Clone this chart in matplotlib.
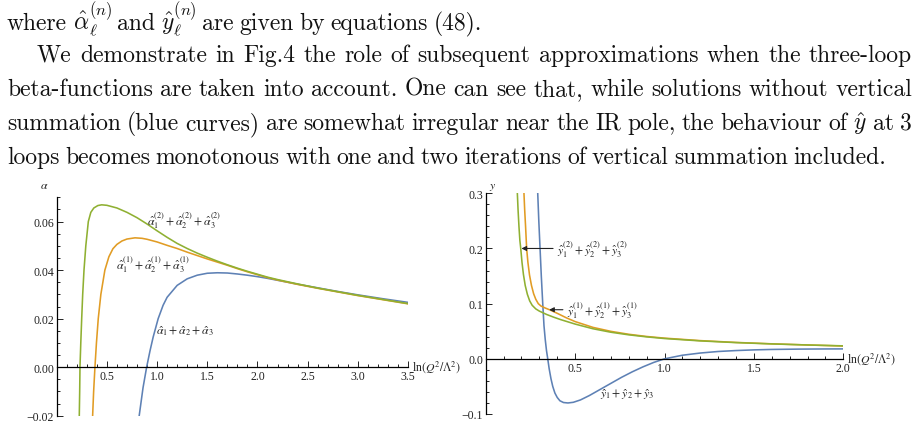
import numpy as np
import matplotlib.pyplot as plt
from matplotlib.ticker import MultipleLocator, FixedLocator

# ---- data ----
# left panel: alpha vs ln(Q^2/Lambda^2)
a_green_x = [0.225, 0.229, 0.232, 0.240, 0.249, 0.259, 0.272, 0.290, 0.315, 0.340, 0.370,
             0.410, 0.448, 0.500, 0.600, 0.700, 0.800, 0.900, 1.000, 1.100, 1.200, 1.300,
             1.400, 1.500, 1.600, 1.700, 1.800, 1.900, 2.000, 2.100, 2.200, 2.400, 2.600,
             2.800, 3.000, 3.250, 3.500]
a_green_y = [-0.020, -0.010, 0.000, 0.010, 0.020, 0.030, 0.040, 0.050, 0.060, 0.0638, 0.0656,
             0.0666, 0.0669, 0.0667, 0.0656, 0.0638, 0.0616, 0.0590, 0.0562, 0.0535, 0.0510,
             0.0489, 0.0470, 0.0453, 0.0437, 0.0422, 0.0408, 0.0395, 0.0383, 0.0371, 0.0361,
             0.0343, 0.0326, 0.0311, 0.0296, 0.0279, 0.0262]

a_orange_x = [0.358, 0.368, 0.381, 0.396, 0.414, 0.440, 0.480, 0.520, 0.560, 0.600, 0.650,
              0.700, 0.780, 0.850, 0.900, 1.000, 1.100, 1.200, 1.300, 1.400, 1.500, 1.600,
              1.700, 1.800, 1.900, 2.000, 2.100, 2.200, 2.400, 2.600, 2.800, 3.000, 3.250,
              3.500]
a_orange_y = [-0.020, -0.010, 0.000, 0.010, 0.020, 0.030, 0.040, 0.0455, 0.0488, 0.0506, 0.0520,
              0.0528, 0.0533, 0.0531, 0.0527, 0.0516, 0.0502, 0.0489, 0.0474, 0.0460, 0.0446,
              0.0433, 0.0420, 0.0406, 0.0393, 0.0381, 0.0369, 0.0359, 0.0341, 0.0325, 0.0310,
              0.0295, 0.0278, 0.0261]

a_blue_x = [0.822, 0.860, 0.896, 0.930, 0.961, 1.011, 1.060, 1.100, 1.200, 1.300, 1.400,
            1.500, 1.600, 1.700, 1.800, 1.900, 2.000, 2.100, 2.200, 2.400, 2.600, 2.800,
            3.000, 3.250, 3.500]
a_blue_y = [-0.020, -0.0085, 0.000, 0.0068, 0.0124, 0.020, 0.0255, 0.0288, 0.0337, 0.0364,
            0.0379, 0.0387, 0.0389, 0.0388, 0.0384, 0.0379, 0.0373, 0.0366, 0.0358, 0.0342,
            0.0327, 0.0312, 0.0298, 0.0282, 0.0267]

# right panel: y vs ln(Q^2/Lambda^2)
y_green_x = [0.177, 0.181, 0.186, 0.191, 0.196, 0.203, 0.211, 0.221, 0.233, 0.246, 0.260,
             0.280, 0.300, 0.340, 0.380, 0.420, 0.500, 0.600, 0.700, 0.800, 0.900, 1.000,
             1.200, 1.400, 1.600, 1.800, 2.000]
y_green_y = [0.300, 0.270, 0.240, 0.215, 0.200, 0.175, 0.153, 0.133, 0.117, 0.105, 0.097,
             0.0905, 0.0865, 0.0805, 0.0755, 0.0710, 0.0630, 0.0545, 0.0482, 0.0435, 0.0398,
             0.0368, 0.0325, 0.0294, 0.0270, 0.0251, 0.0235]

y_orange_x = [0.214, 0.218, 0.223, 0.229, 0.236, 0.245, 0.256, 0.268, 0.280, 0.294, 0.310,
              0.330, 0.360, 0.400, 0.450, 0.500, 0.600, 0.700, 0.800, 0.900, 1.000, 1.200,
              1.400, 1.600, 1.800, 2.000]
y_orange_y = [0.300, 0.270, 0.240, 0.200, 0.175, 0.152, 0.133, 0.118, 0.108, 0.100, 0.0955,
              0.0925, 0.0885, 0.0825, 0.0745, 0.0675, 0.0570, 0.0498, 0.0445, 0.0405, 0.0375,
              0.0330, 0.0297, 0.0272, 0.0251, 0.0232]

y_blue_x = [0.291, 0.297, 0.304, 0.311, 0.319, 0.326, 0.333, 0.340, 0.347, 0.355, 0.365,
            0.375, 0.387, 0.400, 0.415, 0.435, 0.460, 0.490, 0.530, 0.580, 0.640, 0.700,
            0.760, 0.820, 0.880, 0.940, 1.000, 1.100, 1.200, 1.300, 1.400, 1.500, 1.600,
            1.750, 1.900, 2.000]
y_blue_y = [0.300, 0.250, 0.200, 0.150, 0.100, 0.060, 0.035, 0.015, 0.000, -0.018, -0.036,
            -0.050, -0.062, -0.070, -0.076, -0.0792, -0.080, -0.0788, -0.0745, -0.0665, -0.0555,
            -0.0445, -0.0335, -0.0235, -0.0145, -0.0065, 0.000, 0.0065, 0.0105, 0.0133, 0.0150,
            0.0162, 0.0170, 0.0176, 0.0179, 0.0180]

BLUE = '#5e81b5'
ORANGE = '#e19c24'
GREEN = '#8fb032'

W, H = 918, 427
fig = plt.figure(figsize=(W / 100, H / 100), dpi=100)

# ---- paragraph text ----
TXT = dict(family='cmr10', math_fontfamily='cm', fontsize=17, color='#111111')
lines = [
    (r"where $\hat{\alpha}_\ell^{(n)}$ and $\hat{y}_\ell^{(n)}$ are given by equations (48).", 7, None, 30),
    (r"We demonstrate in Fig.4 the role of subsequent approximations when the three-loop", 37, 912, 62),
    (r"beta-functions are taken into account. One can see that, while solutions without vertical", 7, 912, 96),
    (r"summation (blue curves) are somewhat irregular near the IR pole, the behaviour of $\hat{y}$ at 3", 7, 912, 130),
    (r"loops becomes monotonous with one and two iterations of vertical summation included.", 7, None, 164),
]
renderer = fig.canvas.get_renderer()
for s, x0, x1, yb in lines:
    # split on spaces, keeping $...$ groups intact
    words, cur, inmath = [], '', False
    for ch in s:
        if ch == '$':
            inmath = not inmath
        if ch == ' ' and not inmath:
            words.append(cur)
            cur = ''
        else:
            cur += ch
    words.append(cur)
    texts = [fig.text(0, 1 - yb / H, w, va='baseline', ha='left', **TXT) for w in words]
    widths = [t.get_window_extent(renderer).width for t in texts]
    if x1 is None:
        gap = 5.6
    else:
        gap = (x1 - x0 - sum(widths)) / (len(words) - 1)
    x = x0
    for t, w in zip(texts, widths):
        t.set_x(x / W)
        x += w + gap


def add_ax(x0, x1, ytop, ybot):
    return fig.add_axes([x0 / W, 1 - ybot / H, (x1 - x0) / W, (ybot - ytop) / H])


def style(ax, xmax, ymin, ymax, xmajor, ymajor, xminor, yminor, yfmt):
    ax.set_xlim(0, xmax)
    ax.set_ylim(ymin, ymax)
    ax.patch.set_alpha(0)
    for s in ['top', 'right']:
        ax.spines[s].set_visible(False)
    ax.spines['left'].set_position(('data', 0))
    ax.spines['bottom'].set_position(('data', 0))
    for s in ['left', 'bottom']:
        ax.spines[s].set_linewidth(0.9)
    ax.xaxis.set_major_locator(FixedLocator(xmajor))
    ax.yaxis.set_major_locator(FixedLocator(ymajor))
    ax.xaxis.set_minor_locator(MultipleLocator(xminor))
    ax.yaxis.set_minor_locator(MultipleLocator(yminor))
    ax.set_xticklabels(['%.1f' % v for v in xmajor])
    ax.set_yticklabels([(yfmt % v).replace('-', '\u2212') for v in ymajor])
    ax.tick_params(which='both', direction='in', width=0.7, labelsize=8.5, pad=2,
                   colors='#222222')
    ax.tick_params(which='major', length=4)
    ax.tick_params(which='minor', length=2.2)
    for lab in ax.get_xticklabels() + ax.get_yticklabels():
        lab.set_family('Liberation Serif')


LBL = dict(family='Liberation Serif', math_fontfamily='stix', fontsize=8.5, color='#222222')
LW = 1.15

# ---- left panel ----
ax1 = add_ax(56.7, 408, 198.3, 416.7)
ax1.plot(a_blue_x, a_blue_y, color=BLUE, lw=LW)
ax1.plot(a_orange_x, a_orange_y, color=ORANGE, lw=LW)
ax1.plot(a_green_x, a_green_y, color=GREEN, lw=LW)
style(ax1, 3.5, -0.02, 0.07, [0.5, 1.0, 1.5, 2.0, 2.5, 3.0, 3.5],
      [-0.02, 0.0, 0.02, 0.04, 0.06], 0.1, 0.005, '%.2f')
ax1.text(-0.12, 0.0725, r'$\alpha$', ha='center', va='bottom', **LBL)
ax1.text(3.54, 0.0005, r'ln$(Q^2/\Lambda^2)$', ha='left', va='center', **LBL)
ax1.text(0.90, 0.0605, r'$\hat{\alpha}_1^{(2)}+\hat{\alpha}_2^{(2)}+\hat{\alpha}_3^{(2)}$',
         ha='left', va='center', **LBL)
ax1.text(0.59, 0.0425, r'$\hat{\alpha}_1^{(1)}+\hat{\alpha}_2^{(1)}+\hat{\alpha}_3^{(1)}$',
         ha='left', va='center', **LBL)
ax1.text(0.99, 0.0152, r'$\hat{\alpha}_1+\hat{\alpha}_2+\hat{\alpha}_3$',
         ha='left', va='center', **LBL)

# ---- right panel ----
ax2 = add_ax(485.7, 843.3, 194.3, 415)
ax2.plot(y_blue_x, y_blue_y, color=BLUE, lw=LW)
ax2.plot(y_orange_x, y_orange_y, color=ORANGE, lw=LW)
ax2.plot(y_green_x, y_green_y, color=GREEN, lw=LW)
style(ax2, 2.0, -0.1, 0.3, [0.5, 1.0, 1.5, 2.0],
      [-0.1, 0.0, 0.1, 0.2, 0.3], 0.1, 0.02, '%.1f')
ax2.text(0.02, 0.302, r'$y$', ha='left', va='bottom', **LBL)
ax2.text(2.02, 0.002, r'ln$(Q^2/\Lambda^2)$', ha='left', va='center', **LBL)
ax2.annotate(r'$\hat{y}_1^{(2)}+\hat{y}_2^{(2)}+\hat{y}_3^{(2)}$', xy=(0.20, 0.2),
             xytext=(0.40, 0.2), ha='left', va='center',
             arrowprops=dict(arrowstyle='-|>', color='#222222', lw=0.8,
                             mutation_scale=7, shrinkA=1, shrinkB=0), **LBL)
ax2.annotate(r'$\hat{y}_1^{(1)}+\hat{y}_2^{(1)}+\hat{y}_3^{(1)}$', xy=(0.355, 0.089),
             xytext=(0.455, 0.089), ha='left', va='center',
             arrowprops=dict(arrowstyle='-|>', color='#222222', lw=0.8,
                             mutation_scale=7, shrinkA=1, shrinkB=0), **LBL)
ax2.text(0.64, -0.063, r'$\hat{y}_1+\hat{y}_2+\hat{y}_3$', ha='left', va='center', **LBL)

fig.savefig('out.png', dpi=100)
